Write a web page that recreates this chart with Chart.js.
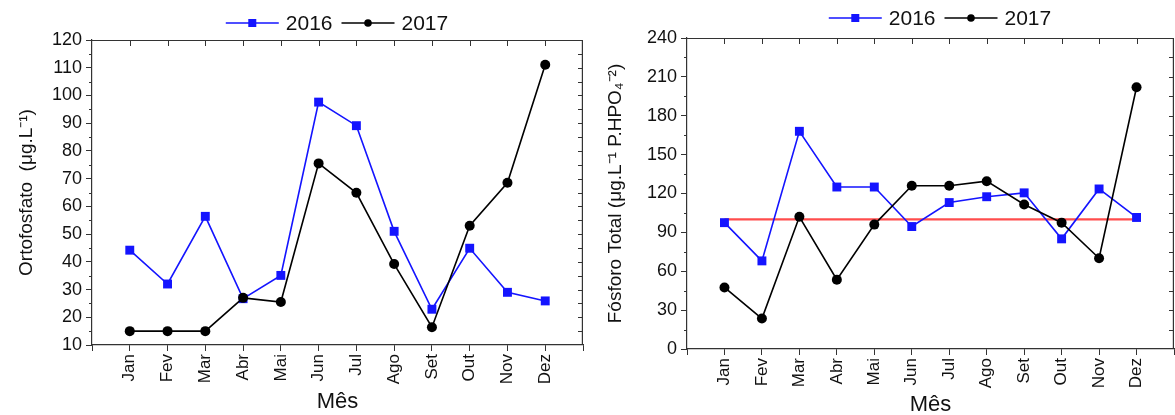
<!DOCTYPE html>
<html><head><meta charset="utf-8">
<script src="https://cdn.jsdelivr.net/npm/chart.js@4.4.0/dist/chart.umd.min.js"></script>
<style>
html,body{margin:0;padding:0;background:#fff;overflow:hidden;}
#w1{position:absolute;left:0;top:0;width:590px;height:415px;}
#w2{position:absolute;left:590px;top:0;width:585px;height:415px;}
</style></head><body>
<div id="w1"><canvas id="c1" width="590" height="415"></canvas></div>
<div id="w2"><canvas id="c2" width="585" height="415"></canvas></div>
<script>
const months = ['Jan','Fev','Mar','Abr','Mai','Jun','Jul','Ago','Set','Out','Nov','Dez'];
const seriesNames = ['2016','2017'];
const orto2016 = [44.2,32,56.4,26.7,35.1,97.6,89.1,51,22.9,44.9,29,25.9];
const orto2017 = [15,15,15,27,25.5,75.5,64.9,39.2,16.4,53,68.5,111.1];
const fosf2016 = [97.5,68,168,125,125,94.5,113,117.5,120.5,85,123.5,101.5];
const fosf2017 = [47.5,23.5,102,53.5,96,126,126,129.5,111.5,97.5,70,202];
const fosfLimit = 100;
const ortoTicks = {min:10, max:120, step:10, minor:5};
const fosfTicks = {min:0, max:240, step:30, minor:15};

const FONT = '"Liberation Sans", Arial, Helvetica, sans-serif';
Chart.defaults.font.family = FONT;
Chart.defaults.color = '#111';
const BLUE = '#1414ff';
const AX = '#333';

function drawLegend(ctx, cx, cy) {
  ctx.font = '21px ' + FONT;
  ctx.textBaseline = 'middle';
  ctx.textAlign = 'left';
  const lineW = 53, g1 = 7, g2 = 9;
  const items = [
    {name: seriesNames[0], color: BLUE, shape: 'rect'},
    {name: seriesNames[1], color: '#000', shape: 'circle'}
  ];
  let total = 0;
  items.forEach((it, i) => { total += lineW + g1 + ctx.measureText(it.name).width + (i < items.length - 1 ? g2 : 0); });
  let x = cx - total / 2;
  items.forEach(it => {
    ctx.strokeStyle = it.color; ctx.fillStyle = it.color; ctx.lineWidth = 1.5;
    ctx.beginPath(); ctx.moveTo(x, cy); ctx.lineTo(x + lineW, cy); ctx.stroke();
    const mx = x + lineW / 2;
    if (it.shape === 'rect') { ctx.fillRect(mx - 4, cy - 4, 8, 8); }
    else { ctx.beginPath(); ctx.arc(mx, cy, 3.8, 0, Math.PI * 2); ctx.fill(); }
    x += lineW + g1;
    ctx.fillStyle = '#111';
    ctx.fillText(it.name, x, cy + 1);
    x += ctx.measureText(it.name).width + g2;
  });
}

const framePlugin = {
  id: 'frame',
  afterDraw(chart, args, opts) {
    const ctx = chart.ctx;
    const {left, right, top, bottom} = chart.chartArea;
    const xs = chart.scales.x, ys = chart.scales.y;
    const t = opts.ticks;
    ctx.save();
    ctx.strokeStyle = AX; ctx.lineWidth = 1.2;
    ctx.beginPath();
    ctx.moveTo(left, top + 0.5); ctx.lineTo(right, top + 0.5);
    ctx.moveTo(right - 0.6, top); ctx.lineTo(right - 0.6, bottom);
    ctx.stroke();
    ctx.lineWidth = 1;
    ctx.beginPath();
    for (let i = 1; i <= months.length; i++) {
      const px = Math.round(xs.getPixelForValue(i)) + 0.5;
      ctx.moveTo(px, top); ctx.lineTo(px, top + 6);
    }
    for (let v = t.min; v <= t.max + 1e-9; v += t.minor) {
      const py = Math.round(ys.getPixelForValue(v)) + 0.5;
      const major = Math.abs((v - t.min) % t.step) < 1e-9;
      if (v > t.min && v < t.max) { ctx.moveTo(right, py); ctx.lineTo(right - 5, py); }
      if (!major) { ctx.moveTo(left, py); ctx.lineTo(left - 3, py); }
    }
    ctx.stroke();
    drawLegend(ctx, opts.legendX, opts.legendY);
    ctx.restore();
  }
};

function makeChart(id, d16, d17, tk, yTitle, geom, limit) {
  const toXY = arr => arr.map((v, i) => ({x: i + 1, y: v}));
  const datasets = [
    {label: seriesNames[1], data: toXY(d17), borderColor: '#000', backgroundColor: '#000',
     borderWidth: 1.6, pointStyle: 'circle', pointRadius: 5, pointBorderWidth: 0, order: 0},
    {label: seriesNames[0], data: toXY(d16), borderColor: BLUE, backgroundColor: BLUE,
     borderWidth: 1.6, pointStyle: 'rect', pointRadius: 6.3, pointBorderWidth: 0, order: 1}
  ];
  if (limit != null) {
    datasets.push({label: 'limite', data: [{x: 1, y: limit}, {x: months.length, y: limit}],
      borderColor: 'rgba(255,45,45,0.85)', borderWidth: 2.2, pointRadius: 0, order: 2});
  }
  return new Chart(document.getElementById(id), {
    type: 'line',
    data: {datasets},
    plugins: [framePlugin],
    options: {
      responsive: false, animation: false,
      layout: {autoPadding: false, padding: {left: geom.pl, right: geom.pr, top: geom.pt, bottom: 0}},
      plugins: {legend: {display: false}, tooltip: {enabled: false},
        frame: {ticks: tk, legendX: geom.lx, legendY: geom.ly}},
      scales: {
        x: {
          type: 'linear', min: 0, max: months.length + 1,
          afterFit: s => { s.height = geom.xh; s.paddingLeft = 0; s.paddingRight = 0; },
          ticks: {stepSize: 1, autoSkip: false, maxRotation: 90, minRotation: 90, padding: 3,
            font: {size: 17}, color: '#111',
            callback: v => months[v - 1] || ''},
          grid: {drawOnChartArea: false, drawTicks: true, tickLength: 6, color: AX, lineWidth: 1},
          border: {color: AX, width: 1.2},
          title: {display: true, text: 'Mês', font: {size: 22}, color: '#111', padding: {top: 0, bottom: geom.tb}}
        },
        y: {
          min: tk.min, max: tk.max,
          afterFit: s => { s.width = geom.yw; s.paddingTop = 0; s.paddingBottom = 0; },
          ticks: {stepSize: tk.step, padding: 4, font: {size: 18}, color: '#111'},
          grid: {drawOnChartArea: false, drawTicks: true, tickLength: 6, color: AX, lineWidth: 1},
          border: {color: AX, width: 1.2},
          title: {display: true, text: yTitle, font: {size: 19}, color: '#111', padding: {top: 0, bottom: 0}}
        }
      }
    }
  });
}

makeChart('c1', orto2016, orto2017, ortoTicks, 'Ortofosfato  (μg.L⁻¹)',
  {pl: 15, pr: 7, pt: 40, yw: 77, xh: 70, tb: 0, lx: 337, ly: 23}, null);
makeChart('c2', fosf2016, fosf2017, fosfTicks, 'Fósforo Total (μg.L⁻¹ P.HPO₄⁻²)',
  {pl: 14, pr: 1, pt: 38, yw: 83, xh: 66, tb: -3, lx: 350, ly: 18}, fosfLimit);
</script>
</body></html>
